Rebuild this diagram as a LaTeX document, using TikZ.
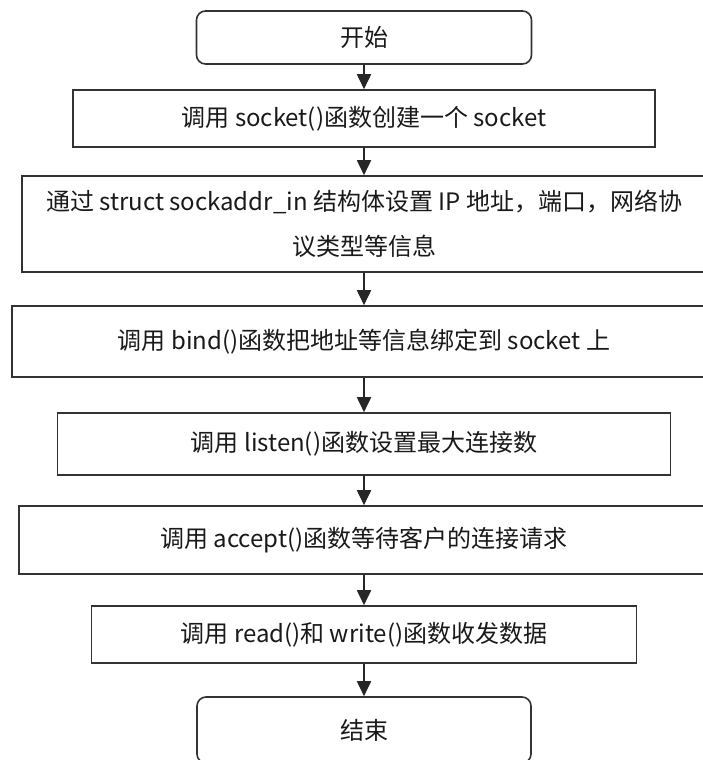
\documentclass[tikz,border=0pt]{standalone}
\usepackage{fontspec}
\setmainfont{Noto Sans CJK SC}
\usetikzlibrary{arrows.meta}
\begin{document}
\begin{tikzpicture}[x=1pt,y=-1pt,
  box/.style={draw=black!80, line width=1.6pt, inner sep=0pt, align=center,
    text=black!90, font=\fontsize{24}{45}\selectfont},
  term/.style={box, rounded corners=9pt},
  arr/.style={draw=black!85, line width=1.8pt, -{Triangle[length=15pt,width=14pt]}}]
\useasboundingbox (0,0) rectangle (702,760);
\node[term, minimum width=335, minimum height=53] (b1) at (364,37.5) {开始};
\node[box, minimum width=582, minimum height=57] (b2) at (364,118.5) {调用 socket()函数创建一个 socket};
\node[box, minimum width=684, minimum height=96] (b3) at (364,224) {通过 struct sockaddr\_in 结构体设置 IP 地址，端口，网络协\\议类型等信息};
\node[box, minimum width=704, minimum height=71] (b4) at (364,341.5) {调用 bind()函数把地址等信息绑定到 socket 上};
\node[box, minimum width=613, minimum height=62] (b5) at (364,444) {调用 listen()函数设置最大连接数};
\node[box, minimum width=690, minimum height=68] (b6) at (364,540) {调用 accept()函数等待客户的连接请求};
\node[box, minimum width=545, minimum height=57] (b7) at (364,634.5) {调用 read()和 write()函数收发数据};
\node[term, minimum width=334, minimum height=66] (b8) at (364,730) {结束};
\draw[arr] (b1.south) -- (b2.north);
\draw[arr] (b2.south) -- (b3.north);
\draw[arr] (b3.south) -- (b4.north);
\draw[arr] (b4.south) -- (b5.north);
\draw[arr] (b5.south) -- (b6.north);
\draw[arr] (b6.south) -- (b7.north);
\draw[arr] (b7.south) -- (b8.north);
\end{tikzpicture}
\end{document}
